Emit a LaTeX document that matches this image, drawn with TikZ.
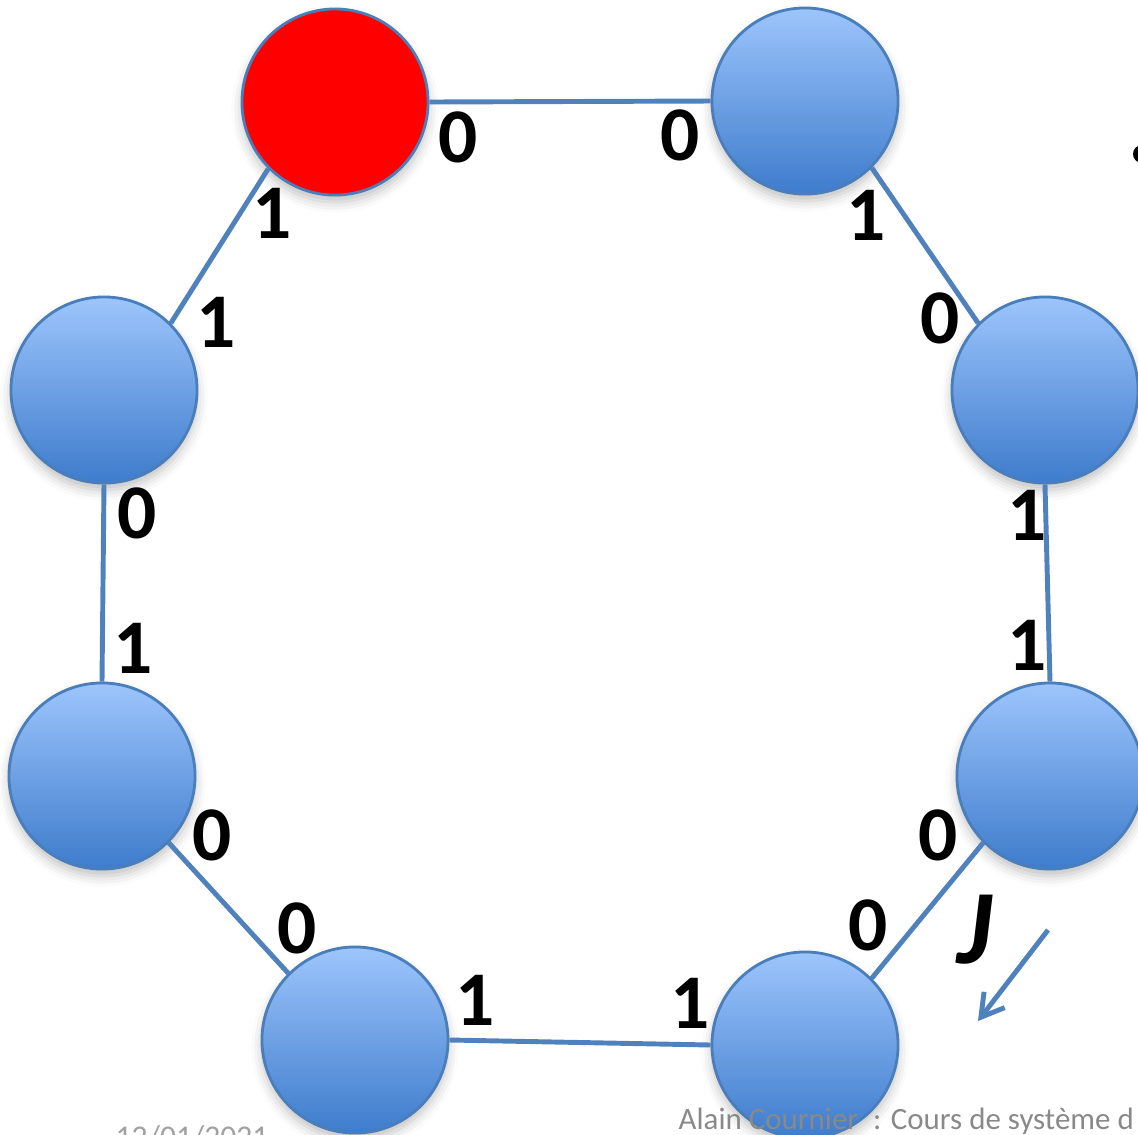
\documentclass[tikz,border=0pt]{standalone}
\usepackage{fontspec}
\setmainfont{Carlito}
\usetikzlibrary{arrows.meta,shadows.blur}
\definecolor{edgeblue}{RGB}{79,129,189}
\definecolor{rimblue}{RGB}{74,126,187}
\definecolor{topblue}{RGB}{157,197,252}
\definecolor{botblue}{RGB}{62,124,204}
\definecolor{footgray}{RGB}{137,137,137}
\tikzset{
  x=0.01cm, y=-0.01cm,
  vertex/.style={circle, minimum size=1.86cm, inner sep=0pt, draw=rimblue, line width=0.8pt,
    top color=topblue, bottom color=botblue,
    blur shadow={shadow xshift=0pt, shadow yshift=-2pt, shadow blur radius=3pt, shadow opacity=25}},
  root/.style={circle, minimum size=1.86cm, inner sep=0pt, draw=rimblue, line width=0.8pt, fill=red,
    blur shadow={shadow xshift=0pt, shadow yshift=-2pt, shadow blur radius=3pt, shadow opacity=25}},
  link/.style={draw=edgeblue, line width=1.4pt},
  bit/.style={font=\fontsize{22}{26}\selectfont\bfseries, inner sep=0pt, text=black},
  foot/.style={font=\fontsize{8.8}{10}\selectfont, text=footgray, inner sep=0pt, anchor=base west}
}
\begin{document}
\begin{tikzpicture}
\useasboundingbox (0,0) rectangle (1138,1135);
\clip (0,0) rectangle (1138,1135);
% vertices
\node[root]   (a) at (335,102) {};
\node[vertex] (b) at (805,101) {};
\node[vertex] (c) at (1045,390) {};
\node[vertex] (d) at (1050,776) {};
\node[vertex] (e) at (805,1045) {};
\node[vertex] (f) at (355,1040) {};
\node[vertex] (g) at (102,776) {};
\node[vertex] (h) at (104,390) {};
% edges
\draw[link] (a.east) -- (b.west);
\draw[link] (b.-45) -- (c.135);
\draw[link] (c.south) -- (d.north);
\draw[link] (d.225) -- (e.45);
\draw[link] (e.west) -- (f.east);
\draw[link] (f.135) -- (g.-45);
\draw[link] (g.north) -- (h.south);
\draw[link] (h.45) -- (a.225);
% labels
\node[bit] (l1) at (458,137) {0};
\node[bit] (l2) at (680,135) {0};
\node[bit] (l3) at (272,213) {1};
\node[bit] (l4) at (866,215) {1};
\node[bit] (l5) at (216,322) {1};
\node[bit] (l6) at (940,318) {0};
\node[bit] (l7) at (137,513) {0};
\node[bit] (l8) at (1027,515) {1};
\node[bit] (l9) at (133,648) {1};
\node[bit] (l10) at (1027,645) {1};
\node[bit] (l11) at (212,835) {0};
\node[bit] (l12) at (938,835) {0};
\node[bit] (l13) at (297,928) {0};
\node[bit] (l14) at (868,925) {0};
\node[bit] (l15) at (475,1000) {1};
\node[bit] (l16) at (690,1003) {1};
% J and arrow
\node[font=\fontsize{30}{34}\selectfont\bfseries\itshape, inner sep=0pt] (jl) at (975,930) {J};
\coordinate (as) at (1048,930);
\coordinate (ae) at (978,1021);
\draw[link, -{Straight Barb[length=2.2mm,width=2.6mm]}] (as) -- (ae);
% bullet
\fill[black] (1142,154) circle[radius=0.09cm];
% footer
\node[foot] (ft) at (678,1129) {Alain Cournier\hspace{0.08cm} : Cours de système d};
\node[foot, font=\fontsize{9}{11}\selectfont, text=footgray!80] (dt) at (115,1147) {12/01/2021};
\end{tikzpicture}
\end{document}
